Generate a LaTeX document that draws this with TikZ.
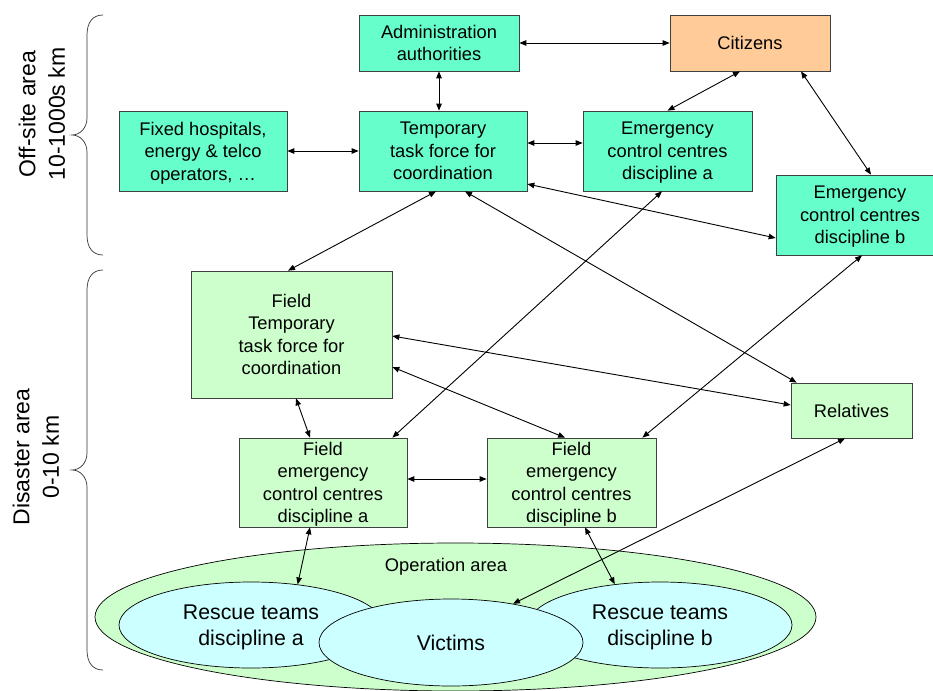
\documentclass[tikz,border=0pt]{standalone}
\usepackage{fontspec}
\setmainfont{Liberation Sans}
\usetikzlibrary{shapes.geometric,arrows.meta}
\definecolor{tealbox}{HTML}{66FFCC}
\definecolor{lgreen}{HTML}{CCFFCC}
\definecolor{lcyan}{HTML}{CCFFFF}
\definecolor{orng}{HTML}{FFCC99}
\newcommand{\bxfont}{\fontsize{18.3}{22.5}\selectfont}
\newcommand{\elfont}{\fontsize{21.3}{25.5}\selectfont}
\newcommand{\brfont}{\fontsize{23}{29.5}\selectfont}
\begin{document}
\begin{tikzpicture}[x=1pt,y=-1pt,
  bx/.style={draw=black!75, line width=0.7pt, align=center, inner sep=0pt, font=\bxfont, text depth=0pt},
  topbox/.style={bx, fill=tealbox},
  fieldbox/.style={bx, fill=lgreen},
  ell/.style={ellipse, draw=black, line width=0.7pt, inner sep=0pt, align=center, font=\elfont},
  conn/.style={{Triangle[length=7pt,width=5.5pt]}-{Triangle[length=7pt,width=5.5pt]}, line width=0.9pt},
  brace/.style={line width=0.7pt, draw=black!80},
  side/.style={rotate=90, align=center, font=\brfont}]
\useasboundingbox (0,0) rectangle (933,690);

% boxes
\node[topbox, minimum width=160pt, minimum height=56pt] (admin) at (439,43) {Administration\\authorities};
\node[bx, fill=orng, minimum width=160pt, minimum height=56pt] (citizens) at (750,43) {Citizens};
\node[topbox, minimum width=168pt, minimum height=80pt] (fixed) at (203,151) {Fixed hospitals,\\energy \& telco\\operators, …};
\node[topbox, minimum width=168pt, minimum height=80pt] (ttf) at (443,151) {Temporary\\task force for\\coordination};
\node[topbox, minimum width=169pt, minimum height=80pt] (ecca) at (667.5,151) {Emergency\\control centres\\discipline a};
\node[topbox, minimum width=168pt, minimum height=80pt] (eccb) at (860,215) {Emergency\\control centres\\discipline b};
\node[fieldbox, minimum width=201pt, minimum height=127pt] (fttf) at (291.5,334.5) {Field\\Temporary\\task force for\\coordination};
\node[fieldbox, minimum width=168pt, minimum height=89pt] (feca) at (323,482.5) {Field\\emergency\\control centres\\discipline a};
\node[fieldbox, minimum width=169pt, minimum height=89pt] (fecb) at (571.5,482.5) {Field\\emergency\\control centres\\discipline b};
\node[fieldbox, minimum width=121pt, minimum height=55pt] (rel) at (851.5,410.5) {Relatives};

% operation area
\node[ell, fill=lgreen, minimum width=721pt, minimum height=148pt] (opa) at (455.5,617) {};
\node[font=\bxfont, inner sep=0pt] (opalabel) at (446,567) {Operation area};
\node[ell, fill=lcyan, minimum width=264pt, minimum height=86pt, text depth=0pt] (resa) at (251,625) {Rescue teams\\discipline a};
\node[ell, fill=lcyan, minimum width=264pt, minimum height=86pt, text depth=0pt] (resb) at (660,625) {Rescue teams\\discipline b};
\node[ell, fill=lcyan, minimum width=264pt, minimum height=87pt] (vict) at (451,642.5) {Victims};

% braces and side labels
\draw[brace] (103,15) .. controls (93,15) and (87,22) .. (87,35) -- (87,118)
  .. controls (87,128) and (80,135) .. (72,135)
  .. controls (80,135) and (87,142) .. (87,152) -- (87,235)
  .. controls (87,248) and (93,255) .. (103,255);
\draw[brace] (103,270) .. controls (93,270) and (87,277) .. (87,290) -- (87,453)
  .. controls (87,463) and (80,470) .. (72,470)
  .. controls (80,470) and (87,477) .. (87,487) -- (87,650)
  .. controls (87,663) and (93,670) .. (103,670);
\node[side] (offlabel) at (42,114) {Off-site area\\10-1000s km};
\node[side] (dislabel) at (36,457) {Disaster area\\0-10 km};

% connectors
\draw[conn] (admin.south) -- (admin.south |- ttf.north);
\draw[conn] (admin.east) -- (citizens.west);
\draw[conn] (fixed.east) -- (ttf.west);
\draw[conn] ([yshift=8pt]ttf.east) -- ([yshift=8pt]ecca.west);
\draw[conn] ([xshift=-10pt]citizens.south) -- (ecca.north);
\draw[conn] ([xshift=51pt]citizens.south) -- ([xshift=11pt]eccb.north);
\draw[conn] ([yshift=-33pt]ttf.east) -- ([yshift=-23pt]eccb.west);
\draw[conn] ([xshift=-7pt]ttf.south) -- ([xshift=-3.5pt]fttf.north);
\draw[conn] ([xshift=22pt]ttf.south) -- ([xshift=6pt]rel.north west);
\draw[conn] ([xshift=-5.5pt]ecca.south) -- ([xshift=-15pt]feca.north east);
\draw[conn] ([xshift=2pt]eccb.south) -- ([xshift=-14pt]fecb.north east);
\draw[conn] ([yshift=-1.5pt]fttf.east) -- ([yshift=5.5pt]rel.west);
\draw[conn] ([yshift=-32.5pt]fttf.east) -- ([xshift=-6.5pt]fecb.north);
\draw[conn] ([xshift=4.5pt]fttf.south) -- ([xshift=-13pt]feca.north);
\draw[conn] ([yshift=3.5pt]feca.east) -- ([yshift=3.5pt]fecb.west);
\draw[conn] ([xshift=-13pt]feca.south) -- (resa.41);
\draw[conn] ([xshift=13.5pt]fecb.south) -- (resb.138);
\draw[conn] ([xshift=-6.5pt]rel.south) -- (vict.32);
\end{tikzpicture}
\end{document}
